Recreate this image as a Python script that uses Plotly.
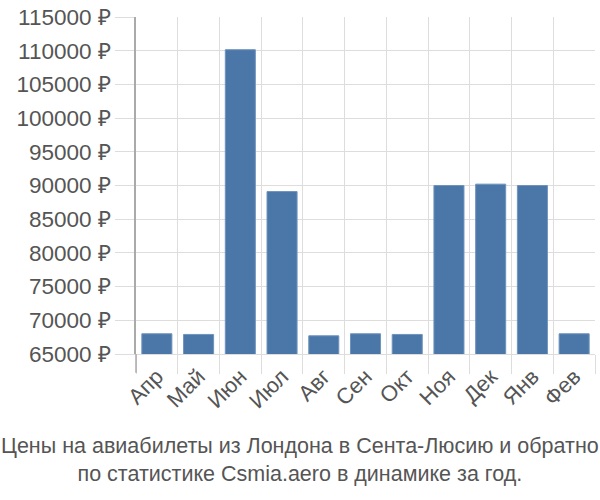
import plotly.graph_objects as go

months = ["Апр", "Май", "Июн", "Июл", "Авг", "Сен", "Окт", "Ноя", "Дек", "Янв", "Фев"]
prices = [68000, 67900, 110150, 89100, 67700, 68000, 67900, 90000, 90200, 90000, 68000]
y_ticks = list(range(65000, 115001, 5000))
y_tick_text = [f"{v} ₽" for v in y_ticks]
title_lines = ["Цены на авиабилеты из Лондона в Сента-Люсию и обратно",
               "по статистике Csmia.aero в динамике за год."]

fig = go.Figure(go.Bar(
    x=months, y=prices,
    marker=dict(color="#4a77a8", line=dict(color="#6f93bd", width=1)),
))

fig.update_layout(
    width=600, height=500,
    margin=dict(l=136, r=5, t=14, b=146),
    paper_bgcolor="white", plot_bgcolor="white",
    bargap=0.28,
    showlegend=False,
    font=dict(family="Liberation Sans, Arial, sans-serif", color="#555555", size=21),
)
fig.update_yaxes(
    range=[65000, 115000],
    tickvals=y_ticks, ticktext=y_tick_text,
    showgrid=True, gridcolor="#dddddd", gridwidth=1,
    ticks="outside", ticklen=19, tickcolor="#dddddd",
    showline=True, linecolor="#aaaaaa", linewidth=1.5,
    zeroline=False,
    tickfont=dict(size=22.5, color="#555555"),
)
fig.update_xaxes(
    type="category",
    tickson="boundaries",
    ticks="outside", ticklen=19, tickcolor="#dddddd",
    showgrid=True, gridcolor="#dddddd", gridwidth=1,
    showline=True, linecolor="#dddddd", linewidth=1,
    tickangle=-45,
    tickfont=dict(size=22, color="#555555"),
)
fig.add_shape(type="line", xref="paper", yref="paper", x0=0, x1=0, y0=0, y1=-0.056,
              line=dict(color="#aaaaaa", width=1.5))
fig.add_annotation(
    text="<br>".join(title_lines), xref="paper", yref="paper",
    x=(300 - 136) / 459, y=0, xanchor="center", yanchor="top",
    yshift=-78, showarrow=False,
    font=dict(size=21.5, color="#555555"),
)
fig.write_html("out.html")
